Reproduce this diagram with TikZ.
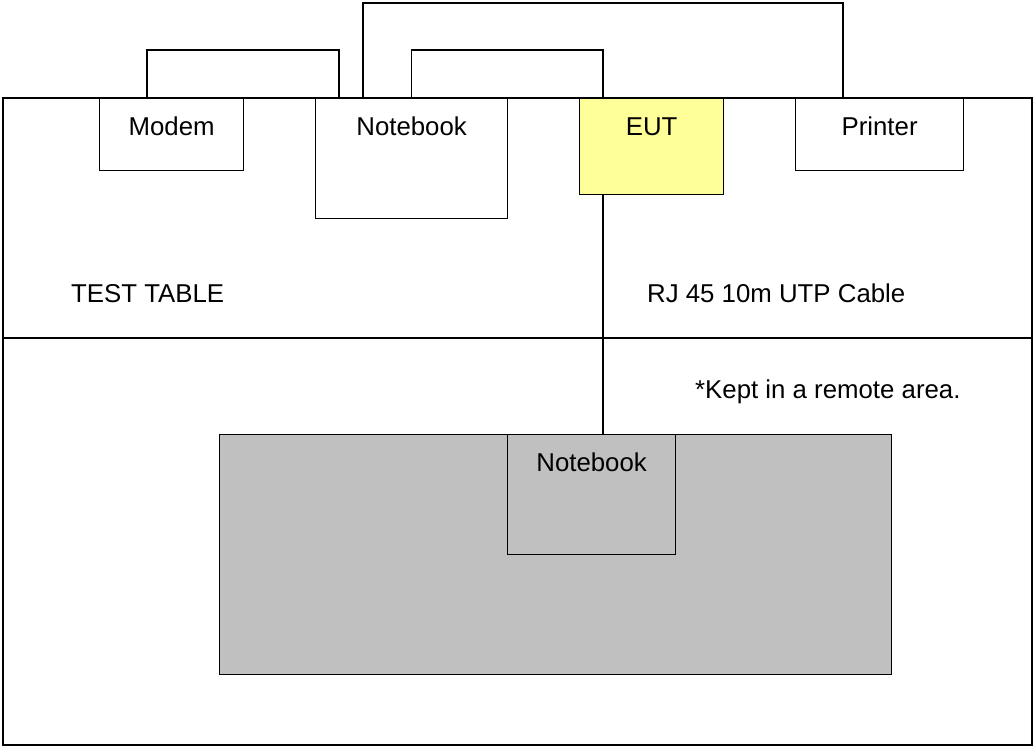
\documentclass[tikz,border=0pt]{standalone}
\usepackage{fontspec}
\setmainfont{Liberation Sans}
\usetikzlibrary{positioning}
\definecolor{eutyellow}{HTML}{FFFF99}
\definecolor{remotegray}{HTML}{C0C0C0}
\tikzset{
  unit/.style={draw, line width=1.2pt, inner sep=0pt, anchor=north west, align=center, text height=37pt},
  cable/.style={line width=1.2pt},
  caption/.style={anchor=base west, inner sep=0pt}
}
\begin{document}
\begin{tikzpicture}[x=1pt, y=-1pt, font=\fontsize{25.8}{30}\selectfont]
\useasboundingbox (0,0) rectangle (1035,747);
%%% test table %%%
\draw[cable] (3,98) rectangle (1032,745);
\draw[cable] (3,338) -- (1032,338);

      %% remote area
      \node[unit, fill=remotegray, minimum width=672pt, minimum height=240pt] (remote) at (219,434) {};
      \node[unit, fill=remotegray, minimum width=168pt, minimum height=120pt, text depth=83pt] (remotenb) at (507,434) {Notebook};

      %% units on the table
      \node[unit, fill=white, minimum width=144pt, minimum height=72pt, text depth=35pt] (modem) at (99,98) {Modem};
      \node[unit, fill=white, minimum width=192pt, minimum height=120pt, text depth=83pt] (notebook) at (315,98) {Notebook};
      \node[unit, fill=eutyellow, minimum width=144pt, minimum height=96pt, text depth=59pt] (eut) at (579,98) {EUT};
      \node[unit, fill=white, minimum width=168pt, minimum height=72pt, text depth=35pt] (printer) at (795,98) {Printer};

      %% texts
      \node[caption] (table) at (71,302) {TEST TABLE};
      \node[caption] (rj) at (647,302) {RJ 45 10m UTP Cable};
      \node[caption] (kept) at (695,398) {*Kept in a remote area.};

      %% cables
      \draw[cable] ([xshift=48pt]modem.north west) -- ++(0,-48) -| ([xshift=24pt]notebook.north west);
      \draw[cable] (notebook.north) -- ++(0,-48) -| ([xshift=24pt]eut.north west);
      \draw[cable] ([xshift=48pt]notebook.north west) -- ++(0,-95) -| ([xshift=48pt]printer.north west);
      \draw[cable] ([xshift=24pt]eut.south west) -- ([xshift=96pt]remotenb.north west);

\end{tikzpicture}
\end{document}
